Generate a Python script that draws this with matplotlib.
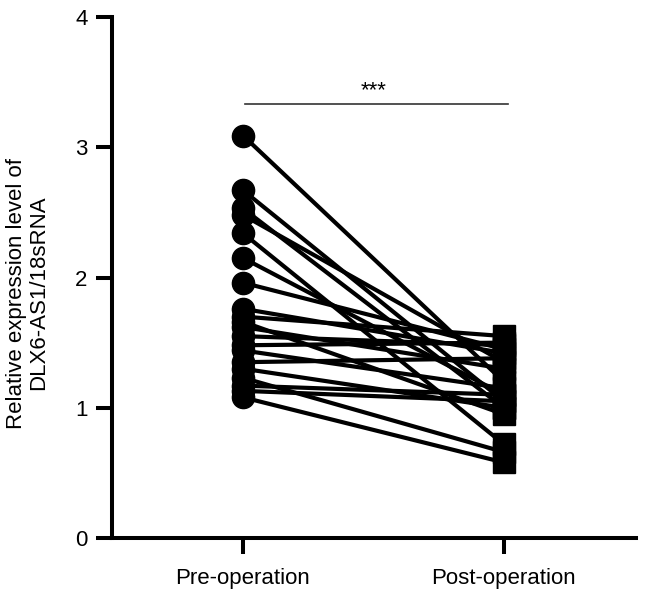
import matplotlib
matplotlib.use('Agg')
import matplotlib.pyplot as plt
import numpy as np

plt.rcParams['font.family'] = ['Liberation Sans', 'DejaVu Sans']

# valores (pares pre / post)
grupos = ['Pre-operation', 'Post-operation']
pre = [3.09, 2.67, 2.53, 2.48, 2.34, 2.15, 1.96, 1.76, 1.70, 1.66,
       1.62, 1.55, 1.48, 1.44, 1.35, 1.30, 1.23, 1.17, 1.13, 1.08]
post = [1.20, 1.05, 1.00, 1.35, 0.72, 1.10, 1.45, 1.42, 1.55, 0.95,
        1.30, 1.48, 1.50, 1.15, 1.38, 1.00, 0.66, 1.10, 1.05, 0.58]
y_ticks = [0, 1, 2, 3, 4]
signif = '***'

fig = plt.figure(figsize=(6.46, 5.99), dpi=100)
ax = fig.add_axes([0.1734, 0.1018, 0.811, 0.8698])

xs = [0, 1]
for a, b in zip(pre, post):
    ax.plot(xs, [a, b], color='black', lw=3.0, zorder=2, solid_capstyle='round')
ax.plot(np.zeros(len(pre)), pre, 'o', color='black', ms=16, zorder=3, clip_on=False)
ax.plot(np.ones(len(post)), post, 's', color='black', ms=15.5, zorder=3, clip_on=False)

# linea de significancia
ax.plot([0.008, 1.015], [3.33, 3.33], color='#333333', lw=1.2)
ax.text(0.5, 3.35, signif, ha='center', va='bottom', fontsize=16)

ax.set_xlim(-0.502, 1.506)
ax.set_ylim(0, 4)
ax.set_xticks(xs)
ax.set_xticklabels(grupos)
ax.set_yticks(y_ticks)
ax.set_ylabel('Relative expression level of\nDLX6-AS1/18sRNA', fontsize=16,
              linespacing=1.05)
ax.yaxis.set_label_coords(-0.12, 0.47)

for s in ['top', 'right']:
    ax.spines[s].set_visible(False)
for s in ['left', 'bottom']:
    ax.spines[s].set_linewidth(2.9)
ax.tick_params(axis='both', width=2.9, length=11.5, labelsize=16, pad=6)
ax.tick_params(axis='x', pad=10)

plt.savefig('out.png', dpi=100)
